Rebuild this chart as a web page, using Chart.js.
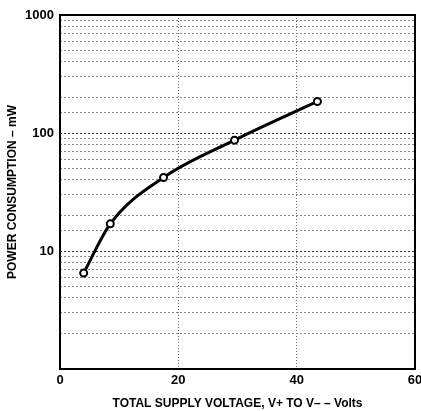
<!DOCTYPE html>
<html>
<head>
<meta charset="utf-8">
<script src="https://cdn.jsdelivr.net/npm/chart.js@4.4.0/dist/chart.umd.min.js"></script>
<style>
  html, body { margin: 0; padding: 0; background: #fff; }
  #wrap { width: 421px; height: 411px; }
</style>
</head>
<body>
<div id="wrap"><canvas id="powerChart"></canvas></div>
<script>
// Data
const supplyVolts = [4, 8.5, 17.5, 29.5, 43.5];
const powerMw = [6.5, 17, 42, 87, 185];
const xTickLabels = [0, 20, 40, 60];
const yTickLabels = [10, 100, 1000];

const tickFont = { family: 'Liberation Sans, Arial, sans-serif', size: 13, weight: 'bold' };
const titleFont = { family: 'Liberation Sans, Arial, sans-serif', size: 12, weight: 'bold' };

// Box around the plot area
Chart.register({
    id: 'plotBox',
    afterDraw(chart) {
        const { ctx, chartArea: { left, top, right, bottom } } = chart;
        ctx.save();
        ctx.strokeStyle = '#000';
        ctx.lineWidth = 2;
        ctx.strokeRect(left, top, right - left, bottom - top);
        ctx.restore();
    }
});

const ctx = document.getElementById('powerChart').getContext('2d');
new Chart(ctx, {
    type: 'line',
    data: {
        labels: supplyVolts,
        datasets: [{
            data: supplyVolts.map((v, i) => ({ x: v, y: powerMw[i] })),
            borderColor: '#000',
            borderWidth: 3,
            cubicInterpolationMode: 'monotone',
            pointRadius: 3.5,
            pointBorderWidth: 2,
            pointBackgroundColor: '#fff',
            pointBorderColor: '#000'
        }]
    },
    options: {
        responsive: true,
        maintainAspectRatio: false,
        animation: false,
        layout: { padding: { top: 15, right: 3, left: 0, bottom: 0 } },
        plugins: {
            legend: { display: false },
            tooltip: { enabled: false }
        },
        scales: {
            x: {
                type: 'linear',
                min: 0,
                max: 60,
                afterBuildTicks(scale) {
                    scale.ticks = xTickLabels.map(v => ({ value: v }));
                },
                afterFit(scale) {
                    scale.height = 42;
                    scale.paddingRight = 0;
                },
                ticks: { color: '#000', font: tickFont, padding: 4 },
                grid: {
                    color: ctx => (ctx.tick.value === 0 || ctx.tick.value === 60) ? 'rgba(0,0,0,0)' : '#666',
                    lineWidth: 1,
                    drawTicks: false
                },
                border: { display: false, dash: [1, 2] },
                title: {
                    display: true,
                    text: 'TOTAL SUPPLY VOLTAGE, V+ TO V– – Volts',
                    color: '#000',
                    font: titleFont,
                    padding: { top: 7, bottom: 0 }
                }
            },
            y: {
                type: 'logarithmic',
                min: 1,
                max: 1000,
                afterFit(scale) { scale.width = 60; },
                ticks: {
                    color: '#000',
                    font: tickFont,
                    padding: 6,
                    autoSkip: false,
                    callback: v => yTickLabels.includes(v) ? String(v) : ''
                },
                grid: {
                    color: ctx => yTickLabels.includes(ctx.tick.value) ? '#333' : '#888',
                    lineWidth: 1,
                    drawTicks: false
                },
                border: { display: false, dash: [2, 2] },
                title: {
                    display: true,
                    text: 'POWER CONSUMPTION – mW',
                    color: '#000',
                    font: titleFont,
                    padding: { top: 5, bottom: 0 }
                }
            }
        }
    }
});
</script>
</body>
</html>
